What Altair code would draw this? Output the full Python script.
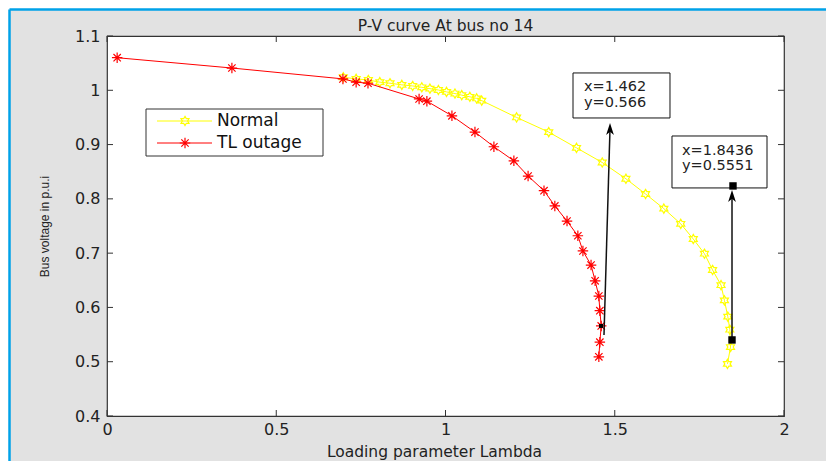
import altair as alt
import pandas as pd

# ---------------- data ----------------
chart_title = "P-V curve At bus no 14"
series_names = ["Normal", "TL outage"]
series_colors = ["#ffff00", "#ff0000"]

normal_lambda = [0.698, 0.736, 0.772, 0.806, 0.836, 0.871, 0.903, 0.930, 0.954, 0.979,
                 1.003, 1.028, 1.048, 1.072, 1.092, 1.107, 1.210, 1.305, 1.387, 1.463,
                 1.533, 1.591, 1.645, 1.695, 1.732, 1.765, 1.789, 1.814, 1.824, 1.834,
                 1.840, 1.842, 1.833]
normal_v = [1.024, 1.021, 1.019, 1.015, 1.013, 1.010, 1.008, 1.0055, 1.003, 1.0005,
            0.997, 0.994, 0.991, 0.988, 0.985, 0.981, 0.950, 0.923, 0.894, 0.867,
            0.837, 0.809, 0.782, 0.754, 0.726, 0.699, 0.669, 0.641, 0.613, 0.583,
            0.559, 0.527, 0.496]

outage_lambda = [0.030, 0.369, 0.697, 0.736, 0.771, 0.922, 0.945, 1.019, 1.087, 1.143,
                 1.202, 1.244, 1.291, 1.323, 1.359, 1.391, 1.406, 1.430, 1.442, 1.453,
                 1.456, 1.460, 1.456, 1.453]
outage_v = [1.060, 1.041, 1.021, 1.015, 1.013, 0.984, 0.980, 0.953, 0.923, 0.896,
            0.870, 0.842, 0.815, 0.787, 0.759, 0.732, 0.704, 0.678, 0.649, 0.621,
            0.594, 0.566, 0.536, 0.509]

x_ticks = [0, 0.5, 1, 1.5, 2]
y_ticks = [0.4, 0.5, 0.6, 0.7, 0.8, 0.9, 1.0, 1.1]

# data tips
tip1_text = ["x=1.462", "y=0.566"]
tip2_text = ["x=1.8436", "y=0.5551"]

# ---------------- layout / style ----------------
W, H = 677, 380
FONT_H = "DejaVu Sans"
TXT = "#222222"
HEX = ("M0,-1L0.289,-0.5L0.866,-0.5L0.577,0L0.866,0.5L0.289,0.5L0,1L-0.289,0.5"
       "L-0.866,0.5L-0.577,0L-0.866,-0.5L-0.289,-0.5Z")
AST = "M-1,0L1,0M0,-1L0,1M-0.7,-0.7L0.7,0.7M-0.7,0.7L0.7,-0.7"
ARROW = "M0,-1L0.55,0.7L0,0.25L-0.55,0.7Z"

rows = []
for i, (a, b) in enumerate(zip(normal_lambda, normal_v)):
    rows.append({"series": series_names[0], "lam": a, "v": b, "idx": i})
for i, (a, b) in enumerate(zip(outage_lambda, outage_v)):
    rows.append({"series": series_names[1], "lam": a, "v": b, "idx": i})
df = pd.DataFrame(rows)

xscale = alt.Scale(domain=[0, 2], nice=False, zero=False)
yscale = alt.Scale(domain=[0.4, 1.1], nice=False, zero=False)
cscale = alt.Scale(domain=series_names, range=series_colors)

xaxis = alt.Axis(values=x_ticks, format="~g", domain=False, ticks=False, tickSize=0,
                 grid=False, labelFont=FONT_H, labelFontSize=16, labelColor=TXT,
                 labelPadding=5, labelFlush=False, labelOverlap=False,
                 title="Loading parameter Lambda", titleFont=FONT_H, titleFontSize=15.5,
                 titleFontWeight="normal", titleColor=TXT, titleX=327, titleY=35,
                 titleAlign="center", titleBaseline="middle")
yaxis = alt.Axis(values=y_ticks, format="~g", domain=False, ticks=False, tickSize=0,
                 grid=False, labelFont=FONT_H, labelFontSize=16, labelColor=TXT,
                 labelPadding=7, labelFlush=False, labelOverlap=False,
                 title="Bus voltage in p.u.i", titleFont="Liberation Sans",
                 titleFontSize=12, titleFontWeight="normal", titleColor=TXT,
                 titleX=-63, titleY=190, titleAngle=270, titleAlign="center",
                 titleBaseline="middle")

one = alt.Data(values=[{"k": 0}])

layers = []

# frame decoration outside the plot (white margin + blue border lines)
layers.append(alt.Chart(one).mark_rect(color="white").encode(
    x=alt.value(-107), x2=alt.value(730), y=alt.value(-36), y2=alt.value(-26.5)))
layers.append(alt.Chart(one).mark_rect(color="white").encode(
    x=alt.value(-107), x2=alt.value(-97.5), y=alt.value(-36), y2=alt.value(430)))
layers.append(alt.Chart(one).mark_rule(color="#00a2e8", strokeWidth=2.5).encode(
    x=alt.value(-97.5), x2=alt.value(730), y=alt.value(-26.5)))
layers.append(alt.Chart(one).mark_rule(color="#00a2e8", strokeWidth=2.5).encode(
    x=alt.value(-97.5), y=alt.value(-26.5), y2=alt.value(430)))

# title as text (above the plot box)
layers.append(alt.Chart(alt.Data(values=[{"t": chart_title}])).mark_text(
    font=FONT_H, fontSize=15.5, color=TXT, align="center", baseline="alphabetic").encode(
    x=alt.value(W / 2), y=alt.value(-5), text="t:N"))

# ticks (inside, all four sides)
xt = pd.DataFrame({"t": x_ticks})
yt = pd.DataFrame({"t": y_ticks})
tick_color = "#333333"
layers.append(alt.Chart(xt).mark_rule(color=tick_color, strokeWidth=1).encode(
    x=alt.X("t:Q", scale=xscale, axis=xaxis), y=alt.value(H), y2=alt.value(H - 6)))
layers.append(alt.Chart(xt).mark_rule(color=tick_color, strokeWidth=1).encode(
    x=alt.X("t:Q", scale=xscale), y=alt.value(0), y2=alt.value(6)))
layers.append(alt.Chart(yt).mark_rule(color=tick_color, strokeWidth=1).encode(
    y=alt.Y("t:Q", scale=yscale, axis=yaxis), x=alt.value(0), x2=alt.value(6)))
layers.append(alt.Chart(yt).mark_rule(color=tick_color, strokeWidth=1).encode(
    y=alt.Y("t:Q", scale=yscale), x=alt.value(W), x2=alt.value(W - 6)))

# curves
shapes = [HEX, AST]
sizes = [85, 110]
for name, shp, sz in zip(series_names, shapes, sizes):
    base = alt.Chart(df).transform_filter(alt.datum.series == name)
    layers.append(base.mark_line(strokeWidth=1).encode(
        x=alt.X("lam:Q", scale=xscale),
        y=alt.Y("v:Q", scale=yscale),
        color=alt.Color("series:N", scale=cscale, legend=None),
        order=alt.Order("idx:Q")))
    layers.append(base.mark_point(shape=shp, size=sz, filled=False, strokeWidth=1.2,
                                  opacity=1).encode(
        x=alt.X("lam:Q", scale=xscale),
        y=alt.Y("v:Q", scale=yscale),
        color=alt.Color("series:N", scale=cscale, legend=None)))

# legend (manual)
layers.append(alt.Chart(one).mark_rect(fill="white", stroke="#333333", strokeWidth=1).encode(
    x=alt.value(39), x2=alt.value(216), y=alt.value(73), y2=alt.value(120)))
for r, (name, col, shp, sz) in enumerate(zip(series_names, series_colors, shapes, sizes)):
    yy = 85 + r * 22
    layers.append(alt.Chart(one).mark_rule(color=col, strokeWidth=1).encode(
        x=alt.value(50), x2=alt.value(105), y=alt.value(yy)))
    layers.append(alt.Chart(one).mark_point(shape=shp, size=sz, filled=False, color=col,
                                            strokeWidth=1.2, opacity=1).encode(
        x=alt.value(78), y=alt.value(yy)))
    layers.append(alt.Chart(alt.Data(values=[{"label": name}])).mark_text(
        font=FONT_H, fontSize=17, color="#111111", align="left", baseline="middle").encode(
        x=alt.value(110), y=alt.value(yy), text="label:N"))

# data tips: boxes, arrows, markers
box_df = pd.DataFrame({"x1": [1.3767, 1.6691], "x2": [1.6632, 1.9498],
                       "y1": [1.0319, 0.9158], "y2": [0.9490, 0.8201]})
layers.append(alt.Chart(box_df).mark_rect(fill="white", stroke="#111111", strokeWidth=1).encode(
    x=alt.X("x1:Q", scale=xscale), x2="x2:Q",
    y=alt.Y("y1:Q", scale=yscale), y2="y2:Q"))
tip_df = pd.DataFrame({
    "label": tip1_text + tip2_text,
    "x": [1.409, 1.409, 1.6987, 1.6987],
    "y": [1.0061, 0.9766, 0.8882, 0.8606]})
layers.append(alt.Chart(tip_df).mark_text(font=FONT_H, fontSize=14.5, color=TXT,
                                          align="left", baseline="middle").encode(
    x=alt.X("x:Q", scale=xscale), y=alt.Y("y:Q", scale=yscale), text="label:N"))
arrow_df = pd.DataFrame({"x1": [1.4682, 1.8464], "y1": [0.5494, 0.5401],
                         "x2": [1.4860, 1.8464], "y2": [0.9300, 0.8100]})
layers.append(alt.Chart(arrow_df).mark_rule(color="#111111", strokeWidth=1.5).encode(
    x=alt.X("x1:Q", scale=xscale), y=alt.Y("y1:Q", scale=yscale),
    x2="x2:Q", y2="y2:Q"))
head_df = pd.DataFrame({"x": [1.4860, 1.8464], "y": [0.9269, 0.8035]})
layers.append(alt.Chart(head_df).mark_point(shape=ARROW, size=200, filled=True,
                                            color="#000000", opacity=1).encode(
    x=alt.X("x:Q", scale=xscale), y=alt.Y("y:Q", scale=yscale)))
sq_df = pd.DataFrame({"x": [1.4594, 1.8493, 1.8464], "y": [0.5659, 0.8238, 0.5401],
                      "s": [16, 55, 55]})
layers.append(alt.Chart(sq_df).mark_point(shape="square", filled=True, color="#000000",
                                          opacity=1).encode(
    x=alt.X("x:Q", scale=xscale), y=alt.Y("y:Q", scale=yscale),
    size=alt.Size("s:Q", scale=None, legend=None)))

chart = alt.layer(*layers).properties(
    width=W, height=H,
    autosize=alt.AutoSizeParams(type="none"),
    padding={"left": 107, "top": 36, "right": 42, "bottom": 45},
    background="#e2e2e2",
).configure_view(fill="white", stroke="#333333", strokeWidth=1.2)

chart.save("out.html", embed_options={"renderer": "svg", "actions": False})
